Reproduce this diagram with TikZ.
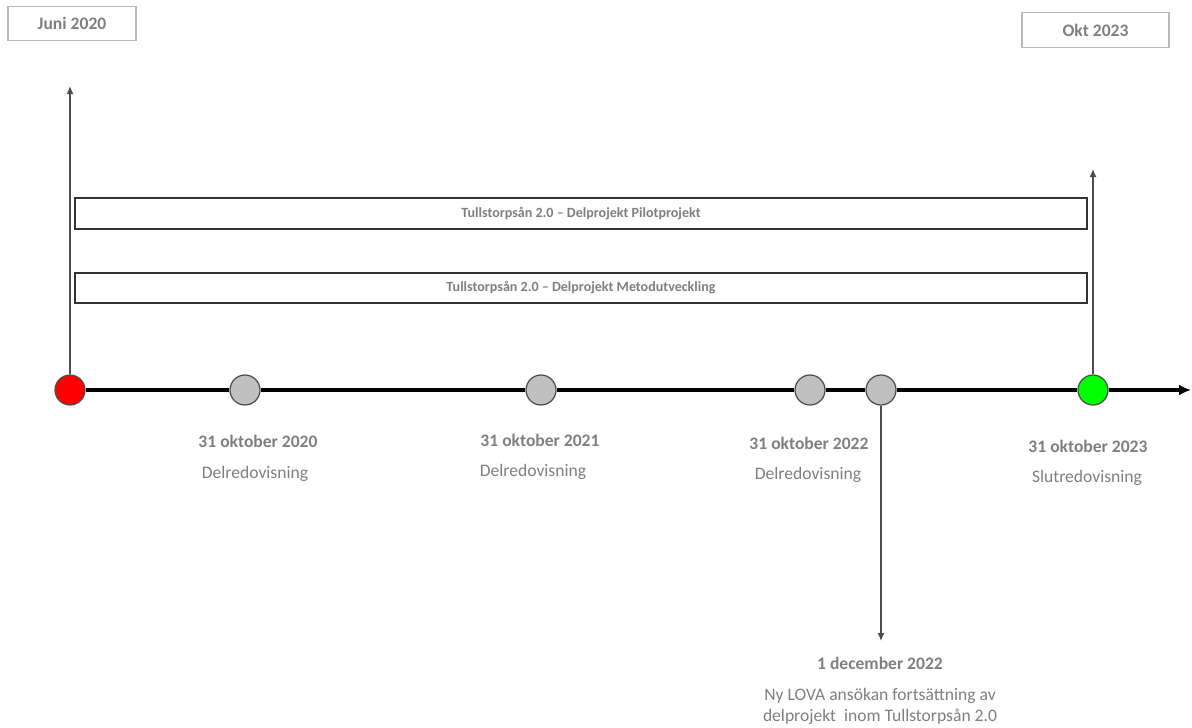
\documentclass[tikz,border=0pt]{standalone}
\usepackage{fontspec}
\setmainfont{Carlito}
\usetikzlibrary{arrows.meta}
\definecolor{txtgray}{HTML}{7F7F7F}
\definecolor{dotgray}{HTML}{C0C0C0}
\definecolor{dotred}{HTML}{FF0000}
\definecolor{dotgreen}{HTML}{00FF00}
\tikzset{
  datebox/.style={draw=gray!55, line width=0.8pt, minimum height=0.69cm, text=txtgray, font=\bfseries\fontsize{10}{12}\selectfont},
  phasebar/.style={draw=black!80, line width=1.2pt, minimum width=20.24cm, minimum height=0.61cm, text=txtgray, font=\bfseries\fontsize{8}{9}\selectfont},
  milestone/.style={circle, draw=black!70, line width=0.7pt, minimum size=0.6cm, inner sep=0pt},
  datelabel/.style={text=txtgray, font=\bfseries\fontsize{10}{12}\selectfont},
  notelabel/.style={text=txtgray, font=\fontsize{10}{12}\selectfont, align=center},
  timeline/.style={draw=black, line width=2.2pt, -{Latex[length=0.24cm,width=0.22cm]}},
  pointer/.style={draw=black!70, line width=0.7pt, -{Latex[length=0.16cm,width=0.14cm]}},
}
\begin{document}
\begin{tikzpicture}[x=0.02cm,y=-0.02cm]
  \useasboundingbox (0,0) rectangle (1192,727);

  \node[datebox, minimum width=2.56cm] (start) at (72,23.5) {Juni 2020};
  \node[datebox, minimum width=2.94cm] (finish) at (1095.5,30) {Okt 2023};

  \node[phasebar] (pilot) at (581,213.5) {Tullstorpsån 2.0 – Delprojekt Pilotprojekt};
  \node[phasebar] (metod) at (581,288) {Tullstorpsån 2.0 – Delprojekt Metodutveckling};

  \node[milestone, fill=dotred] (d2020a) at (70,390) {};
  \node[milestone, fill=dotgray] (d2020b) at (245,390) {};
  \node[milestone, fill=dotgray] (d2021) at (541,390) {};
  \node[milestone, fill=dotgray] (d2022) at (810,390) {};
  \node[milestone, fill=dotgray] (dec2022) at (881,390) {};
  \node[milestone, fill=dotgreen] (d2023) at (1093,390) {};
  \coordinate (axisend) at (1191,390);
  \coordinate (uptop) at (70,86);
  \coordinate (upend) at (1093,169);
  \coordinate (downend) at (881,641);

  \draw[timeline] (d2020a) -- (d2020b) -- (d2021) -- (d2022) -- (dec2022) -- (d2023) -- (axisend);
  \draw[pointer] (d2020a) -- (uptop);
  \draw[pointer] (d2023) -- (upend);
  \draw[pointer] (dec2022) -- (downend);

  \node[datelabel] (l2020) at (258,441) {31 oktober 2020};
  \node[notelabel] (n2020) at (255,474) {Delredovisning};
  \node[datelabel] (l2021) at (540,440) {31 oktober 2021};
  \node[notelabel] (n2021) at (533,472) {Delredovisning};
  \node[datelabel] (l2022) at (809,443) {31 oktober 2022};
  \node[notelabel] (n2022) at (808,475) {Delredovisning};
  \node[datelabel] (l2023) at (1088,446) {31 oktober 2023};
  \node[notelabel] (n2023) at (1087,478) {Slutredovisning};
  \node[datelabel] (ldec) at (880,663) {1 december 2022};
  \node[notelabel] (ndec) at (880,706) {Ny LOVA ansökan fortsättning av\\delprojekt\ \ inom Tullstorpsån 2.0};
\end{tikzpicture}
\end{document}
